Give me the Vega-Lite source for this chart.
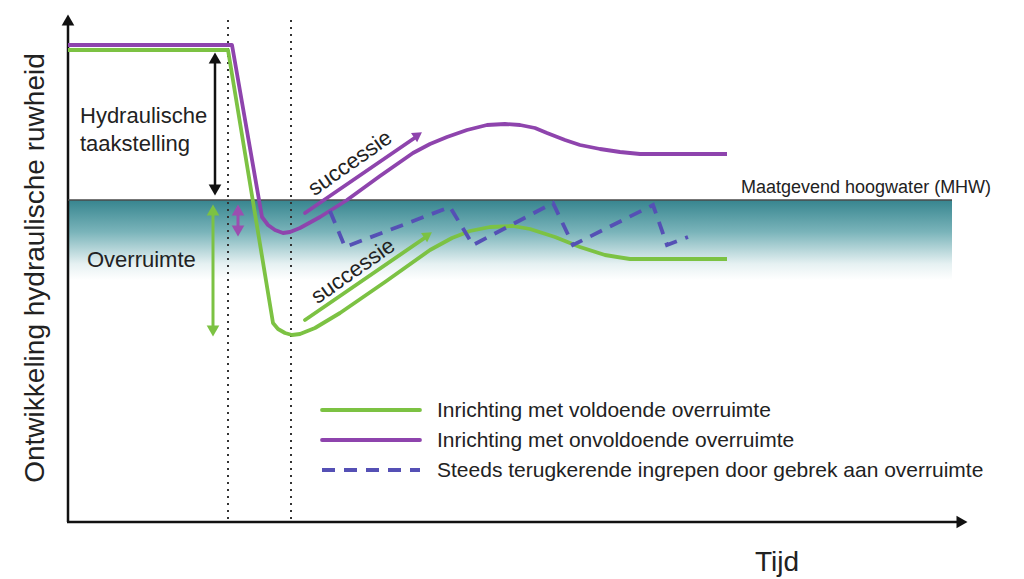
{
  "$schema": "https://vega.github.io/schema/vega-lite/v6.json",
  "width": 1024,
  "height": 579,
  "padding": 0,
  "autosize": {"type": "fit", "contains": "padding"},
  "background": "white",
  "config": {"view": {"stroke": null}, "text": {"font": "Liberation Sans"}},
  "resolve": {"scale": {"color": "independent", "size": "independent", "shape": "independent"}},
  "encoding": {
    "x": {"field": "x", "type": "quantitative", "scale": {"domain": [0, 1024], "nice": false, "zero": false}, "axis": null},
    "y": {"field": "y", "type": "quantitative", "scale": {"domain": [0, 579], "nice": false, "zero": false, "reverse": true}, "axis": null}
  },
  "layer": [
    {
      "data": {"values": [{"x": 68, "x2": 952, "y": 200, "y2": 280}]},
      "mark": {"type": "rect", "fill": {"gradient": "linear", "x1": 0, "y1": 0, "x2": 0, "y2": 1, "stops": [{"offset": 0, "color": "#37858f"}, {"offset": 0.4, "color": "#7ab4ba"}, {"offset": 0.8, "color": "#e6f1f2"}, {"offset": 1, "color": "#ffffff"}]}},
      "encoding": {"x2": {"field": "x2"}, "y2": {"field": "y2"}}
    },
    {
      "data": {"values": [{"x": 228, "y": 20, "y2": 522}, {"x": 291, "y": 20, "y2": 522}]},
      "mark": {"type": "rule", "color": "#333333", "strokeWidth": 2, "strokeDash": [2, 5]},
      "encoding": {"y2": {"field": "y2"}}
    },
    {
      "data": {"values": [
        {"g": "as-y", "x": 68, "y": 522}, {"g": "as-y", "x": 68, "y": 22},
        {"g": "as-x", "x": 67, "y": 522}, {"g": "as-x", "x": 958, "y": 522},
        {"g": "taak", "x": 215, "y": 58}, {"g": "taak", "x": 215, "y": 190}
      ]},
      "mark": {"type": "line", "strokeCap": "butt", "strokeWidth": 2.5, "color": "#111111"},
      "encoding": {"detail": {"field": "g", "type": "nominal"}}
    },
    {
      "data": {"values": [{"g": "MHW", "x": 68, "y": 200}, {"g": "MHW", "x": 952, "y": 200}]},
      "mark": {"type": "line", "strokeWidth": 1.5, "color": "#4a4a4a"},
      "encoding": {"detail": {"field": "g", "type": "nominal"}}
    },
    {
      "data": {"values": [
        {"g": "over-groen", "x": 213, "y": 210}, {"g": "over-groen", "x": 213, "y": 331},
        {"g": "over-paars", "x": 238, "y": 210}, {"g": "over-paars", "x": 238, "y": 231}
      ]},
      "mark": {"type": "line", "strokeCap": "butt", "strokeWidth": 3},
      "encoding": {
        "color": {"field": "g", "type": "nominal", "legend": null, "scale": {"domain": ["over-groen", "over-paars"], "range": ["#7cc243", "#9b4fb0"]}}
      }
    },
    {
      "data": {"values": [
        {"g": "succ-paars", "x": 305, "y": 213}, {"g": "succ-paars", "x": 416, "y": 137},
        {"g": "succ-groen", "x": 305, "y": 320}, {"g": "succ-groen", "x": 426, "y": 237},
        {"g": "leg-voldoende", "x": 322, "y": 410}, {"g": "leg-voldoende", "x": 420, "y": 410},
        {"g": "leg-onvoldoende", "x": 322, "y": 440}, {"g": "leg-onvoldoende", "x": 420, "y": 440}
      ]},
      "mark": {"type": "line", "strokeCap": "round", "strokeWidth": 3.8},
      "encoding": {
        "color": {"field": "g", "type": "nominal", "legend": null,
          "scale": {"domain": ["succ-paars", "succ-groen", "leg-voldoende", "leg-onvoldoende"], "range": ["#8e44ad", "#7cc243", "#7cc243", "#8e44ad"]}}
      }
    },
    {
      "data": {"values": [
        {"g": "onvoldoende", "x": 68, "y": 45}, {"g": "onvoldoende", "x": 232, "y": 45}, {"g": "onvoldoende", "x": 262, "y": 217}, {"g": "onvoldoende", "x": 268, "y": 225}, {"g": "onvoldoende", "x": 275, "y": 230}, {"g": "onvoldoende", "x": 283, "y": 233}, {"g": "onvoldoende", "x": 290, "y": 232}, {"g": "onvoldoende", "x": 300, "y": 228}, {"g": "onvoldoende", "x": 320, "y": 217}, {"g": "onvoldoende", "x": 347, "y": 200}, {"g": "onvoldoende", "x": 380, "y": 176}, {"g": "onvoldoende", "x": 413, "y": 153}, {"g": "onvoldoende", "x": 430, "y": 144}, {"g": "onvoldoende", "x": 447, "y": 137}, {"g": "onvoldoende", "x": 467, "y": 130}, {"g": "onvoldoende", "x": 487, "y": 125}, {"g": "onvoldoende", "x": 505, "y": 124}, {"g": "onvoldoende", "x": 520, "y": 125}, {"g": "onvoldoende", "x": 535, "y": 128}, {"g": "onvoldoende", "x": 547, "y": 133}, {"g": "onvoldoende", "x": 565, "y": 140}, {"g": "onvoldoende", "x": 580, "y": 145}, {"g": "onvoldoende", "x": 600, "y": 149}, {"g": "onvoldoende", "x": 620, "y": 152}, {"g": "onvoldoende", "x": 640, "y": 154}, {"g": "onvoldoende", "x": 727, "y": 154},
        {"g": "voldoende", "x": 68, "y": 50}, {"g": "voldoende", "x": 228, "y": 50}, {"g": "voldoende", "x": 273, "y": 323}, {"g": "voldoende", "x": 278, "y": 329}, {"g": "voldoende", "x": 285, "y": 333}, {"g": "voldoende", "x": 292, "y": 335}, {"g": "voldoende", "x": 300, "y": 334}, {"g": "voldoende", "x": 315, "y": 328}, {"g": "voldoende", "x": 340, "y": 313}, {"g": "voldoende", "x": 385, "y": 282}, {"g": "voldoende", "x": 430, "y": 250}, {"g": "voldoende", "x": 452, "y": 238}, {"g": "voldoende", "x": 470, "y": 231}, {"g": "voldoende", "x": 490, "y": 227}, {"g": "voldoende", "x": 513, "y": 226}, {"g": "voldoende", "x": 530, "y": 229}, {"g": "voldoende", "x": 555, "y": 237}, {"g": "voldoende", "x": 580, "y": 247}, {"g": "voldoende", "x": 605, "y": 255}, {"g": "voldoende", "x": 630, "y": 259}, {"g": "voldoende", "x": 727, "y": 259}
      ]},
      "mark": {"type": "line", "strokeWidth": 3.8, "strokeJoin": "round"},
      "encoding": {
        "color": {"field": "g", "type": "nominal", "legend": null, "scale": {"domain": ["voldoende", "onvoldoende"], "range": ["#7cc243", "#8e44ad"]}}
      }
    },
    {
      "data": {"values": [
        {"g": "ingrepen", "x": 330, "y": 211}, {"g": "ingrepen", "x": 345, "y": 247}, {"g": "ingrepen", "x": 450, "y": 207}, {"g": "ingrepen", "x": 473, "y": 245}, {"g": "ingrepen", "x": 553, "y": 203}, {"g": "ingrepen", "x": 573, "y": 245}, {"g": "ingrepen", "x": 653, "y": 205}, {"g": "ingrepen", "x": 667, "y": 245}, {"g": "ingrepen", "x": 688, "y": 237},
        {"g": "leg-ingrepen", "x": 322, "y": 470}, {"g": "leg-ingrepen", "x": 420, "y": 470}
      ]},
      "mark": {"type": "line", "strokeDash": [13, 9], "strokeWidth": 3.8, "color": "#5550b5", "strokeCap": "butt"},
      "encoding": {"detail": {"field": "g", "type": "nominal"}}
    },
    {
      "data": {"values": [
        {"g": "as-y", "d": "up", "x": 68, "y": 20},
        {"g": "as-x", "d": "right", "x": 962, "y": 522},
        {"g": "taak", "d": "up", "x": 215, "y": 58},
        {"g": "taak", "d": "down", "x": 215, "y": 190},
        {"g": "over-groen", "d": "up", "x": 213, "y": 210},
        {"g": "over-groen", "d": "down", "x": 213, "y": 331},
        {"g": "over-paars", "d": "up", "x": 238, "y": 210},
        {"g": "over-paars", "d": "down", "x": 238, "y": 231}
      ]},
      "mark": {"type": "point", "filled": true, "opacity": 1},
      "encoding": {
        "shape": {"field": "d", "type": "nominal", "legend": null, "scale": {"domain": ["up", "down", "right"], "range": ["triangle-up", "triangle-down", "triangle-right"]}},
        "color": {"field": "g", "type": "nominal", "legend": null, "scale": {"domain": ["as-y", "as-x", "taak", "over-groen", "over-paars"], "range": ["#111111", "#111111", "#111111", "#7cc243", "#9b4fb0"]}},
        "size": {"field": "g", "type": "nominal", "legend": null, "scale": {"domain": ["as-y", "as-x", "taak", "over-groen", "over-paars"], "range": [160, 160, 110, 110, 50]}}
      }
    },
    {
      "data": {"values": [{"g": "succ-paars", "x": 418, "y": 135}, {"g": "succ-groen", "x": 428, "y": 235}]},
      "mark": {"type": "point", "shape": "triangle-up", "filled": true, "opacity": 1, "angle": 56, "size": 120},
      "encoding": {
        "color": {"field": "g", "type": "nominal", "legend": null, "scale": {"domain": ["succ-paars", "succ-groen"], "range": ["#8e44ad", "#7cc243"]}}
      }
    },
    {
      "data": {"values": [
        {"t": "Hydraulische", "x": 80, "y": 116},
        {"t": "taakstelling", "x": 80, "y": 144},
        {"t": "Overruimte", "x": 87, "y": 260}
      ]},
      "mark": {"type": "text", "align": "left", "baseline": "middle", "fontSize": 22, "color": "#222222"},
      "encoding": {"text": {"field": "t"}}
    },
    {
      "data": {"values": [
        {"t": "successie", "x": 350, "y": 163},
        {"t": "successie", "x": 353, "y": 271}
      ]},
      "mark": {"type": "text", "align": "center", "baseline": "middle", "fontSize": 22, "angle": -35, "color": "#222222"},
      "encoding": {"text": {"field": "t"}}
    },
    {
      "data": {"values": [
        {"t": "Inrichting met voldoende overruimte", "x": 437, "y": 411},
        {"t": "Inrichting met onvoldoende overruimte", "x": 437, "y": 441},
        {"t": "Steeds terugkerende ingrepen door gebrek aan overruimte", "x": 437, "y": 471}
      ]},
      "mark": {"type": "text", "align": "left", "baseline": "middle", "fontSize": 21, "color": "#222222"},
      "encoding": {"text": {"field": "t"}}
    },
    {
      "data": {"values": [{"t": "Maatgevend hoogwater (MHW)", "x": 741, "y": 188}]},
      "mark": {"type": "text", "align": "left", "baseline": "middle", "fontSize": 18, "color": "#222222"},
      "encoding": {"text": {"field": "t"}}
    },
    {
      "data": {"values": [{"t": "Tijd", "x": 777, "y": 563}]},
      "mark": {"type": "text", "align": "center", "baseline": "middle", "fontSize": 28, "color": "#222222"},
      "encoding": {"text": {"field": "t"}}
    },
    {
      "data": {"values": [{"t": "Ontwikkeling hydraulische ruwheid", "x": 36, "y": 268}]},
      "mark": {"type": "text", "align": "center", "baseline": "middle", "fontSize": 28, "angle": -90, "color": "#222222"},
      "encoding": {"text": {"field": "t"}}
    }
  ]
}
